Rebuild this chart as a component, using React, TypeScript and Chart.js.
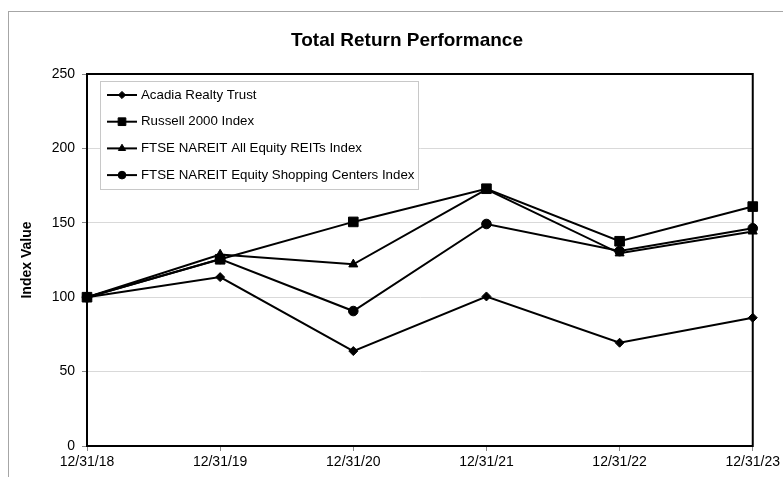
import React, { useEffect, useRef } from "react";
import { Chart, registerables } from "chart.js";
import { drawPoint } from "chart.js/helpers";

Chart.register(...registerables);

const FONT = "'Liberation Sans', Arial, sans-serif";

const categories = ["12/31/18", "12/31/19", "12/31/20", "12/31/21", "12/31/22", "12/31/23"];
const seriesNames = [
  "Acadia Realty Trust",
  "Russell 2000 Index",
  "FTSE NAREIT All Equity REITs Index",
  "FTSE NAREIT Equity Shopping Centers Index",
];
const acadia = [100, 113.5, 63.8, 100.5, 69.4, 86.2];
const russell = [100, 125.5, 150.6, 172.9, 137.6, 160.9];
const reitsAll = [100, 128.7, 122.1, 172.5, 129.5, 144.2];
const shopping = [100, 125.7, 90.7, 149.2, 131.0, 146.3];
const seriesValues = [acadia, russell, reitsAll, shopping];
const pointStyles = ["rectRot", "rect", "triangle", "circle"];
const pointRadii = [4.5, 6.8, 5.2, 4.8];
const yTicks = [0, 50, 100, 150, 200, 250];

const outerBorderPlugin = {
  id: "outerBorder",
  beforeDraw(chart: any) {
    const ctx = chart.ctx;
    ctx.save();
    ctx.fillStyle = "#ffffff";
    ctx.fillRect(0, 0, chart.width, chart.height);
    ctx.strokeStyle = "#a6a6a6";
    ctx.lineWidth = 1;
    ctx.strokeRect(8.5, 11.5, chart.width + 20, chart.height + 20);
    ctx.restore();
  },
};

// widen the y scale box to the canvas edge after layout so its labels/title are not clipped
const yScaleSpanPlugin = {
  id: "yScaleSpan",
  afterLayout(chart: any) {
    const y = chart.scales.y;
    if (y) {
      y.left = 0;
      y.width = y.right;
    }
  },
};

const frameTopRightPlugin = {
  id: "frameTopRight",
  beforeDatasetsDraw(chart: any) {
    const { ctx, chartArea } = chart;
    ctx.save();
    ctx.strokeStyle = "#000";
    ctx.lineWidth = 2;
    ctx.beginPath();
    ctx.moveTo(chartArea.left - 1, chartArea.top);
    ctx.lineTo(chartArea.right, chartArea.top);
    ctx.lineTo(chartArea.right, chartArea.bottom + 1);
    ctx.stroke();
    ctx.restore();
  },
};

const boxLegendPlugin = {
  id: "boxLegend",
  afterDraw(chart: any) {
    const { ctx, chartArea } = chart;
    const x0 = chartArea.left + 13;
    const y0 = chartArea.top + 7;
    const w = 318;
    const h = 108;
    ctx.save();
    ctx.fillStyle = "#fff";
    ctx.fillRect(x0, y0, w, h);
    ctx.strokeStyle = "#c8c8c8";
    ctx.lineWidth = 1;
    ctx.strokeRect(x0 + 0.5, y0 + 0.5, w, h);
    chart.data.datasets.forEach((ds: any, i: number) => {
      const y = y0 + 14 + i * 26.7;
      ctx.strokeStyle = "#000";
      ctx.fillStyle = "#000";
      ctx.lineWidth = 2;
      ctx.beginPath();
      ctx.moveTo(x0 + 7, y);
      ctx.lineTo(x0 + 37, y);
      ctx.stroke();
      ctx.lineWidth = 1;
      drawPoint(ctx, { pointStyle: ds.pointStyle, radius: ds.pointRadius * 0.8, rotation: 0, borderWidth: 1 } as any, x0 + 22, y);
      ctx.font = `13.3px ${FONT}`;
      ctx.textAlign = "left";
      ctx.textBaseline = "middle";
      ctx.fillText(ds.label, x0 + 41, y);
    });
    ctx.restore();
  },
};

export default function App() {
  const ref = useRef<HTMLCanvasElement>(null);
  useEffect(() => {
    const chart = new Chart(ref.current as HTMLCanvasElement, {
      type: "line",
      data: {
        labels: categories,
        datasets: seriesNames.map((name, i) => ({
          label: name,
          data: seriesValues[i],
          borderColor: "#000",
          backgroundColor: "#000",
          pointBackgroundColor: "#000",
          pointBorderColor: "#000",
          borderWidth: 2,
          pointStyle: pointStyles[i] as any,
          pointRadius: pointRadii[i],
          pointBorderWidth: 1,
          tension: 0,
          clip: false as any,
        })),
      },
      options: {
        animation: false,
        responsive: false,
        devicePixelRatio: 1,
        events: [],
        layout: { padding: { left: 61, right: 30, top: 0, bottom: 0 } },
        plugins: {
          legend: { display: false },
          tooltip: { enabled: false },
          title: {
            display: true,
            text: "Total Return Performance",
            color: "#000",
            font: { family: FONT, size: 19, weight: "bold" },
            padding: { top: 29.2, bottom: 22 },
          },
        },
        scales: {
          x: {
            type: "category",
            offset: false,
            grid: { display: true, drawOnChartArea: false, drawTicks: true, tickLength: 5, tickColor: "#888" },
            border: { display: true, color: "#000", width: 2 },
            ticks: { color: "#000", font: { family: FONT, size: 14 }, padding: 3, maxRotation: 0, autoSkip: false },
            afterFit: (s: any) => {
              s.height = 31;
            },
          },
          y: {
            min: 0,
            max: 250,
            afterBuildTicks: (s: any) => {
              s.ticks = yTicks.map((v) => ({ value: v }));
            },
            ticks: { color: "#000", font: { family: FONT, size: 14 }, padding: 7 },
            grid: { color: "#d9d9d9", tickColor: "#888", tickLength: 5, drawTicks: true },
            border: { display: true, color: "#000", width: 2 },
            title: {
              display: true,
              text: "Index Value",
              color: "#000",
              font: { family: FONT, size: 14, weight: "bold" },
              padding: { top: 19, bottom: 0 },
            },
            afterFit: (s: any) => {
              s.width = 26;
            },
          },
        },
      } as any,
      plugins: [outerBorderPlugin, yScaleSpanPlugin, frameTopRightPlugin, boxLegendPlugin],
    });
    return () => chart.destroy();
  }, []);
  return (
    <div style={{ position: "absolute", left: 0, top: 0, width: 783, height: 477, background: "#fff" }}>
      <canvas ref={ref} width={783} height={477} style={{ display: "block", width: 783, height: 477 }} />
    </div>
  );
}
